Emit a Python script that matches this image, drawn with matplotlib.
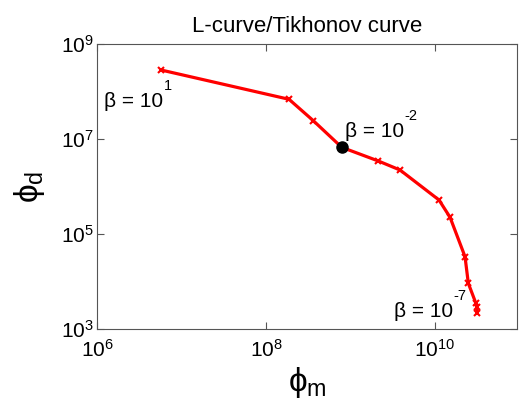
import matplotlib
matplotlib.use("Agg")
import matplotlib.pyplot as plt
import numpy as np
from matplotlib.ticker import FixedLocator, FuncFormatter, NullLocator

plt.rcParams['font.family'] = ['Liberation Sans', 'DejaVu Sans']
plt.rcParams['mathtext.fontset'] = 'custom'
plt.rcParams['mathtext.rm'] = 'Liberation Sans'
plt.rcParams['mathtext.it'] = 'Liberation Sans'
plt.rcParams['mathtext.sf'] = 'Liberation Sans'

# L-curve: model norm (phi_m) vs data misfit (phi_d), log10 values
log_phi_m = [6.757, 8.272, 8.560, 8.896, 9.329, 9.586, 10.047, 10.178,
             10.355, 10.394, 10.481, 10.493, 10.500]
log_phi_d = [8.453, 7.836, 7.385, 6.825, 6.537, 6.347, 5.716, 5.351,
             4.522, 3.962, 3.553, 3.470, 3.330]
phi_m = [10 ** v for v in log_phi_m]
phi_d = [10 ** v for v in log_phi_d]

# chosen regularisation parameter
best_idx = 3

# beta annotations: (exponent, log10 x, log10 y)
beta_exps = ['1', '-2', '-7']
beta_lx = [6.08, 8.93, 9.51]
beta_ly = [7.67, 7.04, 3.26]

x_ticks = [1e6, 1e8, 1e10]
y_ticks = [1e3, 1e5, 1e7, 1e9]

fig = plt.figure(figsize=(5.19, 4.11), dpi=100)
ax = fig.add_axes([97 / 519, (411 - 329) / 411, (517 - 97) / 519, (329 - 44) / 411])

ax.plot(phi_m, phi_d, color='#ff0000', lw=2.3, marker='x', ms=5, mew=1.5)
ax.plot([phi_m[best_idx]], [phi_d[best_idx]], 'o', color='black', ms=8)

ax.set_xscale('log')
ax.set_yscale('log')
ax.set_xlim(1e6, 10 ** 10.97)
ax.set_ylim(1e3, 1e9)

fmt = FuncFormatter(lambda v, p: r'$\mathregular{10^{%d}}$' % round(np.log10(v)))
ax.xaxis.set_major_locator(FixedLocator(x_ticks))
ax.yaxis.set_major_locator(FixedLocator(y_ticks))
ax.xaxis.set_minor_locator(NullLocator())
ax.yaxis.set_minor_locator(NullLocator())
ax.xaxis.set_major_formatter(fmt)
ax.yaxis.set_major_formatter(fmt)
ax.tick_params(direction='in', length=5, width=0.8, color='#555555',
               top=True, right=True, labelsize=15)
ax.tick_params(axis='x', pad=7)
ax.tick_params(axis='y', pad=2)
for s in ax.spines.values():
    s.set_color('#555555')
    s.set_linewidth(0.8)

# beta labels with a raised exponent
for e, lx, ly in zip(beta_exps, beta_lx, beta_ly):
    base = ax.text(10 ** lx, 10 ** ly, '\u03b2 = 10', fontsize=15,
                   ha='left', va='baseline')
    ax.annotate(e.replace('-', '\u2010'), xy=(1, 0), xycoords=base,
                xytext=(0.5, 15), textcoords='offset points',
                fontsize=10.5, ha='left', va='baseline')

ax.set_title('L-curve/Tikhonov curve', fontsize=16, pad=9)
ax.set_xlabel(r'$\phi_\mathregular{m}$', fontsize=24, labelpad=3)
ax.set_ylabel(r'$\phi_\mathregular{d}$', fontsize=24, labelpad=10)

fig.savefig('out.png', dpi=100)
